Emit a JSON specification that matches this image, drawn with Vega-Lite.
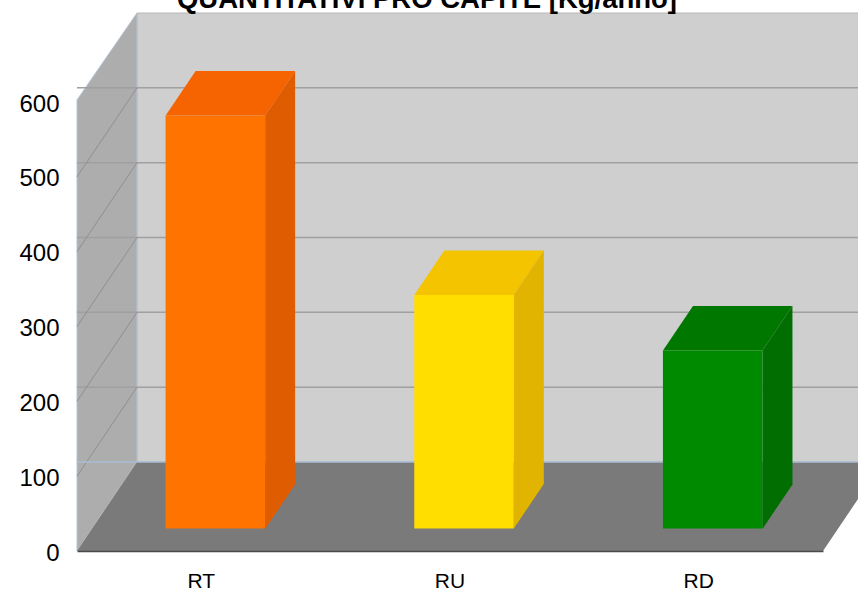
{
"$schema":"https://vega.github.io/schema/vega-lite/v6.json",
"width":746,"height":449,
"autosize":{"type":"none"},
"padding":{"left":77,"top":102,"right":35,"bottom":38},
"background":"white",
"datasets":{
"bars":[{"cat":"RT","value":552},{"cat":"RU","value":312},{"cat":"RD","value":238}],
"ticks":[{"value":0},{"value":100},{"value":200},{"value":300},{"value":400},{"value":500},{"value":600}],
"plane":[{"low":0,"high":600,"heading":"QUANTITATIVI PRO CAPITE [Kg/anno]"}]
},
"config":{"view":{"stroke":null}},
"resolve":{"scale":{"color":"independent","shape":"independent"}},
"layer":[
{"data":{"name":"plane"},"mark":{"type":"point","filled":true,"opacity":1,"size":4,"fill":"#CFCFCF","stroke":"#B8B8B8","strokeWidth":1,"shape":"M-313,-89L433,-89L433,-538L-313,-538Z"},
 "encoding":{
  "y":{"field":"low","type":"quantitative","scale":{"domain":[0,600],"nice":false},
   "axis":{"title":null,"values":[0,100,200,300,400,500,600],"ticks":false,"labelFont":"Liberation Sans","labelFontSize":24,"labelColor":"#000000","labelPadding":18,"labelOffset":2,"domain":false,"grid":false}}}},
{"data":{"name":"plane"},"mark":{"type":"point","filled":true,"opacity":1,"size":4,"fill":"#ADADAD","stroke":"#B4C2D2","strokeWidth":1,"shape":"M-373,0L-313,-89L-313,-538L-373,-451Z"},
 "encoding":{"y":{"field":"low","type":"quantitative"}}},
{"data":{"name":"ticks"},"transform":[{"filter":"datum.value>0 && datum.value<600"}],"mark":{"type":"rule","stroke":"#A0A0A0","strokeWidth":1.5,"xOffset":60,"x2Offset":60,"yOffset":-89},
 "encoding":{"y":{"field":"value","type":"quantitative"}}},
{"data":{"name":"ticks"},"transform":[{"filter":"datum.value>0 && datum.value<600"}],"mark":{"type":"point","opacity":1,"size":4,"filled":false,"stroke":"#8F8F8F","strokeWidth":1,"shape":"M-373,0L-313,-89"},
 "encoding":{"y":{"field":"value","type":"quantitative"}}},
{"data":{"name":"plane"},"mark":{"type":"point","filled":true,"opacity":1,"size":4,"fill":"#7A7A7A","shape":"M-373,0L373,0L433,-89L-313,-89Z"},
 "encoding":{"y":{"field":"low","type":"quantitative"}}},
{"data":{"name":"plane"},"mark":{"type":"rule","stroke":"#A8BCD4","strokeWidth":1.5,"xOffset":60,"x2Offset":60,"yOffset":-89},
 "encoding":{"y":{"field":"low","type":"quantitative"}}},
{"data":{"name":"bars"},"mark":{"type":"point","filled":true,"opacity":1,"size":4,"xOffset":63.8,"yOffset":-22.5,"shape":"M-99.5,0L-69.5,-44.5L30,-44.5L0,0Z"},
 "encoding":{
  "x":{"field":"cat","type":"nominal","scale":{"domain":["RT","RU","RD"],"paddingInner":0,"paddingOuter":0},"sort":null,
   "axis":{"title":null,"labelAngle":0,"ticks":false,"labelFont":"Liberation Sans","labelFontSize":21,"labelColor":"#000000","labelPadding":19,"domain":true,"domainColor":"#4A4A4A","domainWidth":1.5,"grid":false,"zindex":1}},
  "y":{"field":"value","type":"quantitative"},
  "color":{"field":"cat","type":"nominal","legend":null,"scale":{"domain":["RT","RU","RD"],"range":["#F56400","#F5C400","#007800"]}}}},
{"data":{"name":"bars"},"mark":{"type":"point","filled":true,"opacity":1,"size":4,"xOffset":63.8,"yOffset":-22.5},
 "encoding":{"x":{"field":"cat","type":"nominal"},"y":{"field":"value","type":"quantitative"},
  "color":{"field":"cat","type":"nominal","legend":null,"scale":{"domain":["RT","RU","RD"],"range":["#E05C00","#E0B400","#006E00"]}},
  "shape":{"field":"cat","type":"nominal","legend":null,"scale":{"domain":["RT","RU","RD"],"range":["M0,0L30,-44.5L30,369L0,413.5Z","M0,0L30,-44.5L30,189L0,233.5Z","M0,0L30,-44.5L30,134L0,178.5Z"]}}}},
{"data":{"name":"bars"},"mark":{"type":"bar","width":99.5,"xOffset":14,"x2Offset":14,"yOffset":-22.5,"y2Offset":-22.5},
 "encoding":{"x":{"field":"cat","type":"nominal"},"y":{"field":"value","type":"quantitative"},
  "color":{"field":"cat","type":"nominal","legend":null,"scale":{"domain":["RT","RU","RD"],"range":["#FF7300","#FFDE00","#008A00"]}}}},
{"data":{"name":"plane"},"mark":{"type":"text","font":"Liberation Sans","fontSize":27.5,"fontWeight":"bold","color":"#000000","align":"center","baseline":"alphabetic","dx":-23,"yOffset":-94},
 "encoding":{"y":{"field":"high","type":"quantitative"},"text":{"field":"heading"}}}
]
}
